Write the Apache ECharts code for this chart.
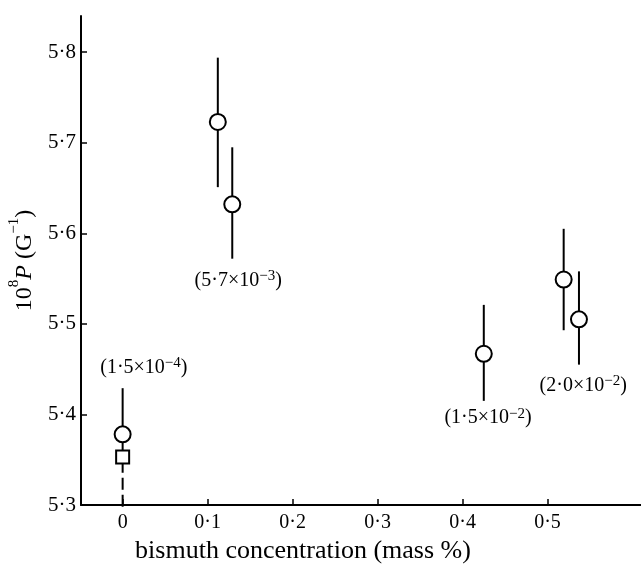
<!DOCTYPE html>
<html>
<head>
<meta charset="utf-8">
<script src="https://cdn.jsdelivr.net/npm/echarts@6/dist/echarts.min.js"></script>
<style>
  html, body { margin: 0; padding: 0; background: #fff; }
  #main { width: 641px; height: 566px; }
</style>
</head>
<body>
<div id="main"></div>
<script>
// circles: concentration, value, error bar ends
var concX = [0, 0.112, 0.129, 0.425, 0.519, 0.537];
var valY = [5.378, 5.723, 5.632, 5.467, 5.549, 5.505];
var errLow = [5.353, 5.651, 5.572, 5.415, 5.493, 5.455];
var errHigh = [5.429, 5.794, 5.695, 5.521, 5.605, 5.558];

// the single square point, dashed bar below it
var sqX = [0];
var sqY = [5.353];
var sqLow = [5.298];
var sqHigh = [5.353];

// bracketed notes
var noteText = ['(1·5×10{s|−4})', '(5·7×10{s|−3})', '(1·5×10{s|−2})', '(2·0×10{s|−2})'];
var noteX = [0.025, 0.136, 0.430, 0.542];
var noteY = [5.452, 5.548, 5.396, 5.432];

var yTicks = [5.3, 5.4, 5.5, 5.6, 5.7, 5.8];
var xTicks = [0, 0.1, 0.2, 0.3, 0.4, 0.5];

var serif = 'Liberation Serif';

function dot(v) {
    if (v === 0) return '0';
    return v.toFixed(1).replace('.', '·');
}

function errData(xs, lo, hi) {
    var out = [];
    for (var i = 0; i < xs.length; i++) out.push([xs[i], lo[i], hi[i]]);
    return out;
}

function barRender(dash) {
    return function (params, api) {
        var a = api.coord([api.value(0), api.value(1)]);
        var b = api.coord([api.value(0), api.value(2)]);
        return {
            type: 'line',
            shape: { x1: a[0], y1: a[1], x2: b[0], y2: b[1] },
            style: { stroke: '#000', lineWidth: 2, lineDash: dash }
        };
    };
}

var chart = echarts.init(document.getElementById('main'), null, { renderer: 'canvas' });

var option = {
    backgroundColor: '#fff',
    animation: false,
    grid: { left: 81, right: 0, top: 16, bottom: 61, containLabel: false, outerBoundsMode: 'none' },
    xAxis: {
        type: 'value',
        min: -0.049,
        max: 0.61,
        name: 'bismuth concentration (mass %)',
        nameLocation: 'middle',
        nameGap: 33,
        nameTextStyle: { fontFamily: serif, fontSize: 26, color: '#000', padding: [0, 116, 0, 0] },
        axisLine: { onZero: false, lineStyle: { color: '#000', width: 2 } },
        axisTick: { inside: true, length: 6, customValues: xTicks, lineStyle: { color: '#000', width: 1.5 } },
        axisLabel: { customValues: xTicks, formatter: dot, fontFamily: serif, fontSize: 20, color: '#000', margin: 8 },
        splitLine: { show: false }
    },
    yAxis: {
        type: 'value',
        min: 5.3,
        max: 5.84,
        name: '{n|10}{s|8}{i|P }{n|(G}{s|−1}{n|)}',
        nameLocation: 'middle',
        nameGap: 44,
        nameRotate: 90,
        nameTextStyle: {
            color: '#000',
            rich: {
                n: { fontFamily: serif, fontSize: 24, color: '#000', verticalAlign: 'bottom', lineHeight: 30 },
                i: { fontFamily: serif, fontSize: 24, fontStyle: 'italic', color: '#000', verticalAlign: 'bottom', lineHeight: 30 },
                s: { fontFamily: serif, fontSize: 15, color: '#000', verticalAlign: 'top', lineHeight: 30 }
            }
        },
        axisLine: { onZero: false, lineStyle: { color: '#000', width: 2 } },
        axisTick: { inside: true, length: 6, customValues: yTicks, lineStyle: { color: '#000', width: 1.5 } },
        axisLabel: { customValues: yTicks, formatter: dot, fontFamily: serif, fontSize: 21, color: '#000', margin: 5 },
        splitLine: { show: false }
    },
    series: [
        {
            type: 'custom',
            renderItem: barRender(null),
            data: errData(concX, errLow, errHigh),
            z: 1
        },
        {
            type: 'custom',
            renderItem: barRender([12, 5]),
            data: errData(sqX, sqLow, sqHigh),
            z: 1
        },
        {
            type: 'scatter',
            symbol: 'circle',
            symbolSize: 16,
            itemStyle: { color: '#fff', borderColor: '#000', borderWidth: 2, opacity: 1 },
            data: concX.map(function (x, i) { return [x, valY[i]]; }),
            z: 3
        },
        {
            type: 'scatter',
            symbol: 'rect',
            symbolSize: 13,
            itemStyle: { color: '#fff', borderColor: '#000', borderWidth: 2, opacity: 1 },
            data: sqX.map(function (x, i) { return [x, sqY[i]]; }),
            z: 3
        },
        {
            type: 'custom',
            renderItem: function (params, api) {
                var p = api.coord([api.value(0), api.value(1)]);
                return {
                    type: 'text',
                    x: p[0],
                    y: p[1],
                    style: {
                        text: noteText[params.dataIndex],
                        fontFamily: serif,
                        fontSize: 20,
                        fill: '#000',
                        align: 'center',
                        verticalAlign: 'middle',
                        rich: {
                            s: { fontFamily: serif, fontSize: 15, fill: '#000', verticalAlign: 'top', lineHeight: 24 }
                        }
                    }
                };
            },
            data: noteX.map(function (x, i) { return [x, noteY[i]]; }),
            z: 4
        }
    ]
};

chart.setOption(option);
</script>
</body>
</html>
